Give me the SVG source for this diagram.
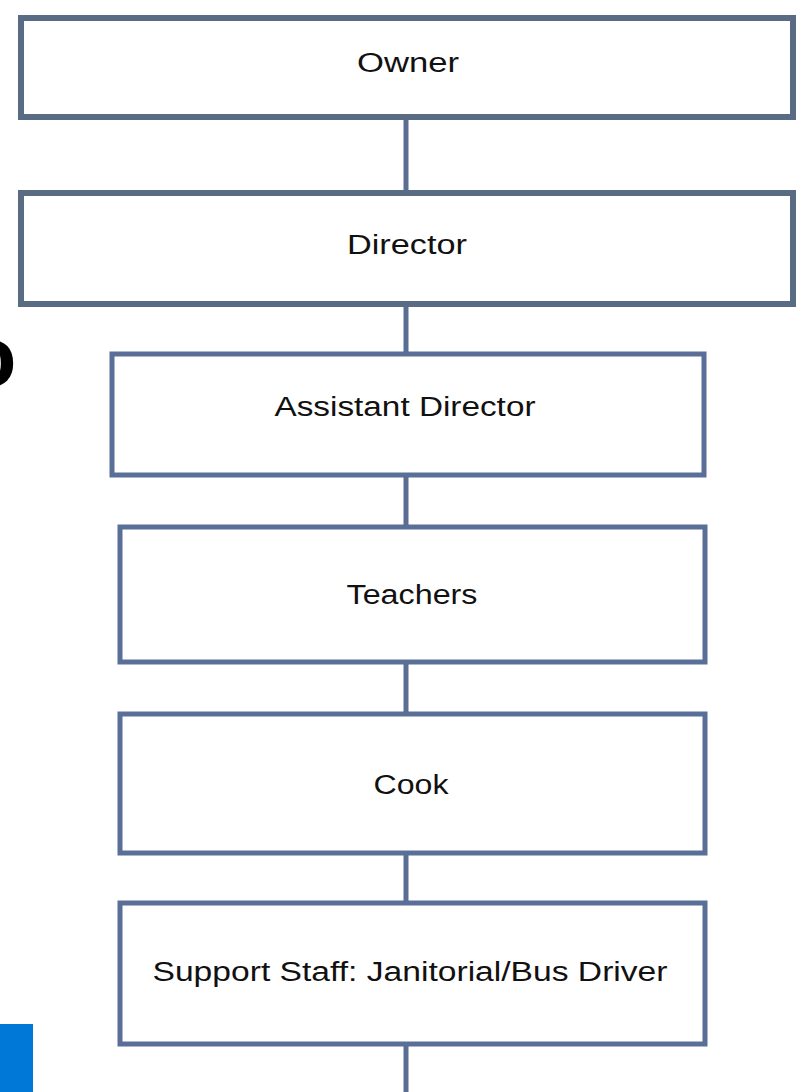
<svg xmlns="http://www.w3.org/2000/svg" width="800" height="1092" viewBox="0 0 800 1092">
<style>
.box{fill:#ffffff;stroke:#5a6b84;stroke-width:6}
.box2{fill:#ffffff;stroke:#5a6f98;stroke-width:5}
.lbl{font-family:"Liberation Sans",Arial,sans-serif;font-size:27px;fill:#111111;text-anchor:middle}
.conn{stroke:#5a6d92;stroke-width:5;fill:none}
</style>
<rect x="0" y="0" width="800" height="1092" fill="#ffffff"/>
<text x="-36" y="386" font-family="Liberation Sans, Arial, sans-serif" font-size="86" font-weight="bold" fill="#000000">o</text>
<rect x="0" y="1024" width="33" height="68" fill="#0078d7"/>
<g id="connectors">
<line class="conn" x1="406" y1="117" x2="406" y2="193"/>
<line class="conn" x1="406" y1="304" x2="406" y2="354"/>
<line class="conn" x1="406" y1="475" x2="406" y2="527"/>
<line class="conn" x1="406" y1="662" x2="406" y2="714"/>
<line class="conn" x1="406" y1="853" x2="406" y2="903"/>
<line class="conn" x1="406" y1="1044" x2="406" y2="1092"/>
</g>
<g id="owner">
<rect class="box" x="21" y="18" width="772" height="99"/>
<text class="lbl" x="408" y="72" textLength="102" lengthAdjust="spacingAndGlyphs">Owner</text>
</g>
<g id="director">
<rect class="box" x="21" y="193" width="772" height="111"/>
<text class="lbl" x="407" y="254" textLength="120" lengthAdjust="spacingAndGlyphs">Director</text>
</g>
<g id="assistant-director">
<rect class="box2" x="112" y="354" width="592" height="121"/>
<text class="lbl" x="405" y="416" textLength="261" lengthAdjust="spacingAndGlyphs">Assistant Director</text>
</g>
<g id="teachers">
<rect class="box2" x="120" y="527" width="585" height="135"/>
<text class="lbl" x="412" y="604" textLength="131" lengthAdjust="spacingAndGlyphs">Teachers</text>
</g>
<g id="cook">
<rect class="box2" x="120" y="714" width="585" height="139"/>
<text class="lbl" x="411" y="794" textLength="75" lengthAdjust="spacingAndGlyphs">Cook</text>
</g>
<g id="support-staff">
<rect class="box2" x="120" y="903" width="585" height="141"/>
<text class="lbl" x="410" y="981" textLength="515" lengthAdjust="spacingAndGlyphs">Support Staff: Janitorial/Bus Driver</text>
</g>
</svg>
